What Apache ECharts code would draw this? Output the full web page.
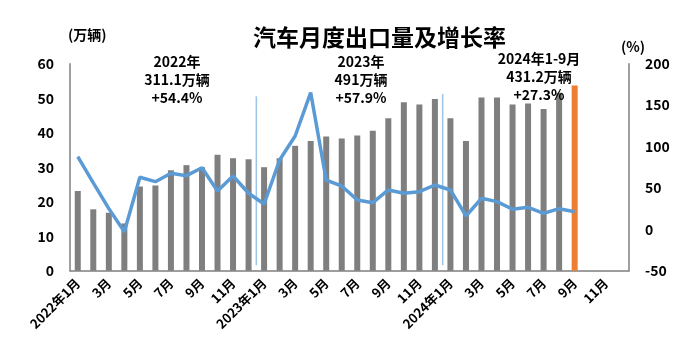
<!DOCTYPE html>
<html>
<head>
<meta charset="utf-8">
<script src="https://cdn.jsdelivr.net/npm/echarts@6/dist/echarts.min.js"></script>
<style>
html,body{margin:0;padding:0;background:#fff;}
#chart{width:700px;height:358px;}
</style>
</head>
<body>
<div id="chart"></div>
<script>
// ---- data ----
var categories = [
  '2022年1月','2月','3月','4月','5月','6月','7月','8月','9月','10月','11月','12月',
  '2023年1月','2月','3月','4月','5月','6月','7月','8月','9月','10月','11月','12月',
  '2024年1月','2月','3月','4月','5月','6月','7月','8月','9月','10月','11月','12月'
];
// monthly exports (万辆)
var exports2022 = [23.1, 17.8, 16.8, 13.7, 24.4, 24.7, 29.1, 30.6, 30.0, 33.6, 32.6, 32.3];
var exports2023 = [30.0, 32.6, 36.2, 37.6, 38.9, 38.3, 39.2, 40.6, 44.2, 48.8, 48.2, 49.8];
var exports2024 = [44.2, 37.6, 50.2, 50.2, 48.2, 48.5, 46.9, 51.6, 53.7];
// year-on-year growth (%)
var growth2022 = [87.7, 56, 25, -3, 62.8, 57.5, 67.6, 64.8, 74.4, 46.3, 64.4, 43.5];
var growth2023 = [30.6, 83.7, 112.7, 165, 59.5, 52.3, 35.4, 32.1, 47.5, 43.5, 45.4, 53.5];
var growth2024 = [47.5, 16.1, 37.4, 33.4, 24.2, 26.6, 19.3, 24.9, 21.3];
var leftTicks = {min: 0, max: 60, interval: 10};
var rightTicks = {min: -50, max: 200, interval: 50};
// year separators (category boundary index, bottom/top in 万辆)
var separators = [[[12, 1.6], [12, 50.6]], [[24, 1.6], [24, 51.2]]];
var annotations = [
  {text: '2022年\n311.1万辆\n+54.4%', x: 177, y: 53},
  {text: '2023年\n491万辆\n+57.9%', x: 361, y: 53},
  {text: '2024年1-9月\n431.2万辆\n+27.3%', x: 539, y: 50}
];

var exportsAll = exports2022.concat(exports2023, exports2024);
var growthAll = growth2022.concat(growth2023, growth2024);
var highlightIndex = exportsAll.length - 1;

var FONT = '"Noto Sans CJK SC", "Noto Sans", sans-serif';
var chart = echarts.init(document.getElementById('chart'), null, {renderer: 'canvas'});

var series = [
  {
    type: 'bar',
    data: exportsAll,
    barWidth: 6,
    xAxisIndex: 0,
    yAxisIndex: 0,
    itemStyle: {
      color: function (p) { return p.dataIndex === highlightIndex ? '#ED7D31' : '#7F7F7F'; }
    },
    z: 2
  },
  {
    type: 'line',
    data: growthAll,
    xAxisIndex: 0,
    yAxisIndex: 1,
    showSymbol: false,
    symbol: 'none',
    lineStyle: {color: '#5B9BD5', width: 3.5},
    z: 4
  }
];
separators.forEach(function (seg) {
  series.push({
    type: 'line',
    data: seg,
    xAxisIndex: 1,
    yAxisIndex: 0,
    symbol: 'none',
    lineStyle: {color: '#9DC3E6', width: 1.5},
    z: 3,
    silent: true
  });
});

var graphics = [
  {type: 'text', left: 68, top: 28, style: {text: '(万辆)', font: 'bold 14px ' + FONT, fill: '#000'}},
  {type: 'text', left: 621, top: 40, style: {text: '(%)', font: 'bold 14px ' + FONT, fill: '#000'}}
];
annotations.forEach(function (a) {
  graphics.push({
    type: 'text', x: a.x, y: a.y, z: 10,
    style: {text: a.text, font: 'bold 14px ' + FONT, fill: '#000', align: 'center', verticalAlign: 'top', lineHeight: 18}
  });
});

chart.setOption({
  animation: false,
  backgroundColor: '#fff',
  title: {
    text: '汽车月度出口量及增长率',
    left: 253, top: 26, padding: 0,
    textStyle: {fontFamily: FONT, fontWeight: 'bold', fontSize: 23, color: '#000'}
  },
  grid: {left: 70, right: 71, top: 63.7, bottom: 87.3, containLabel: false},
  xAxis: [
    {
      type: 'category',
      data: categories,
      boundaryGap: true,
      axisLine: {show: true, lineStyle: {color: '#7F7F7F', width: 1.5}},
      axisTick: {show: false},
      axisLabel: {
        interval: 1, rotate: 45, margin: 10,
        fontFamily: FONT, fontWeight: 'bold', fontSize: 13, color: '#000'
      },
      splitLine: {show: false}
    },
    {
      type: 'value', min: 0, max: 36, show: false,
      splitLine: {show: false}
    }
  ],
  yAxis: [
    {
      type: 'value', min: leftTicks.min, max: leftTicks.max, interval: leftTicks.interval,
      axisLine: {show: true, lineStyle: {color: '#7F7F7F', width: 1.5}},
      axisTick: {show: false},
      splitLine: {show: false},
      axisLabel: {margin: 16, fontFamily: FONT, fontWeight: 'bold', fontSize: 14, color: '#000'}
    },
    {
      type: 'value', min: rightTicks.min, max: rightTicks.max, interval: rightTicks.interval,
      position: 'right',
      axisLine: {show: true, lineStyle: {color: '#7F7F7F', width: 1.5}},
      axisTick: {show: false},
      splitLine: {show: false},
      axisLabel: {margin: 16, fontFamily: FONT, fontWeight: 'bold', fontSize: 14, color: '#000'}
    }
  ],
  graphic: graphics,
  series: series
});
</script>
</body>
</html>
